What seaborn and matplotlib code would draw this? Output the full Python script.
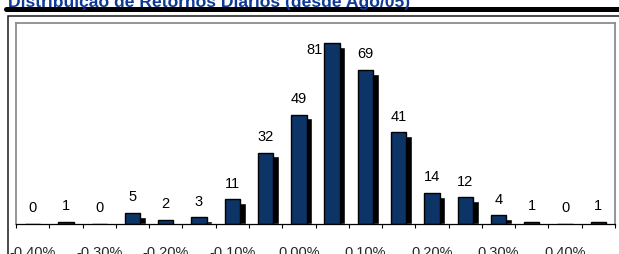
import matplotlib
matplotlib.use("Agg")
import matplotlib.pyplot as plt
from matplotlib.lines import Line2D
from matplotlib.patches import Rectangle
import numpy as np
import seaborn as sns

# ---- data ----
categories = ["-0.40%", "-0.35%", "-0.30%", "-0.25%", "-0.20%", "-0.15%",
              "-0.10%", "-0.05%", "0.00%", "0.05%", "0.10%", "0.15%",
              "0.20%", "0.25%", "0.30%", "0.35%", "0.40%", "0.45%"]
values = [0, 1, 0, 5, 2, 3, 11, 32, 49, 81, 69, 41, 14, 12, 4, 1, 0, 1]
shown_labels = ["-0.40%", "-0.30%", "-0.20%", "-0.10%", "0.00%",
                "0.10%", "0.20%", "0.30%", "0.40%"]
title = "Distribuição de Retornos Diários (desde Ago/05)"

# ---- style ----
sns.set_style("white")
plt.rcParams['font.family'] = ['Liberation Sans', 'DejaVu Sans']

W, H = 619, 255
fig = plt.figure(figsize=(W / 100, H / 100), dpi=100)
ax = fig.add_axes([16 / W, 1 - 225 / H, (615 - 16) / W, (225 - 24) / H])

bar_color = "#0c3466"
bar_w = 0.46
ymax = 90
sh_dx = 0.17
sh_dy = 1.7

sns.barplot(x=categories, y=values, order=categories, color=bar_color,
            saturation=1, width=bar_w, edgecolor="black", linewidth=1.0,
            ax=ax, zorder=3)

# shadows
pos = np.arange(len(values))
vals = np.array(values, dtype=float)
sh_h = np.where(vals > 0, np.maximum(vals - sh_dy, 0.6), 0)
ax.bar(pos + sh_dx, sh_h, width=bar_w, color="black", zorder=2)

ax.set_xlim(-0.5, len(values) - 0.5)
ax.set_ylim(0, ymax)

# value labels
fs_val = 10.5
for i, v in enumerate(values):
    if v + 10 > ymax:
        ax.annotate(str(v), xy=(i - bar_w / 2, v), xytext=(-1, 1),
                    textcoords="offset points", ha="right", va="top",
                    fontsize=fs_val, color="black", zorder=5)
    else:
        ax.annotate(str(v), xy=(i, v), xytext=(0, 9),
                    textcoords="offset points", ha="center", va="baseline",
                    fontsize=fs_val, color="black", zorder=5)

# ticks
ax.set_xticks(np.arange(-0.5, len(values), 1.0))
ax.set_xticklabels([])
ax.tick_params(axis="x", which="major", direction="out", length=3.2,
               width=0.8, color="black", bottom=True)
label_pos = [categories.index(l) for l in shown_labels]
ax.set_xticks(label_pos, minor=True)
ax.set_xticklabels(shown_labels, minor=True, fontsize=10.5)
ax.tick_params(axis="x", which="minor", length=0, pad=15)
ax.set_yticks([])
ax.set_xlabel("")
ax.set_ylabel("")

for side in ["left", "top", "right"]:
    ax.spines[side].set_color("#8c8c8c")
    ax.spines[side].set_linewidth(1.3)
ax.spines["bottom"].set_color("black")
ax.spines["bottom"].set_linewidth(0.9)
ax.spines["bottom"].set_zorder(4)

# title and decorations
fig.text(8 / W, 1 - 7 / H, title, fontsize=12.6, fontweight="bold",
         color="#0f3a94", ha="left", va="baseline")
fig.add_artist(Line2D([6 / W, 1.0], [1 - 9.5 / H] * 2, lw=5 * 0.72,
                      color="black"))
fig.add_artist(Rectangle((8 / W, -0.1), 1.2, (1 - 16.5 / H) + 0.1,
                         transform=fig.transFigure, fill=False,
                         lw=1.1, ec="#1a1a1a"))

fig.savefig("out.png", dpi=100)
